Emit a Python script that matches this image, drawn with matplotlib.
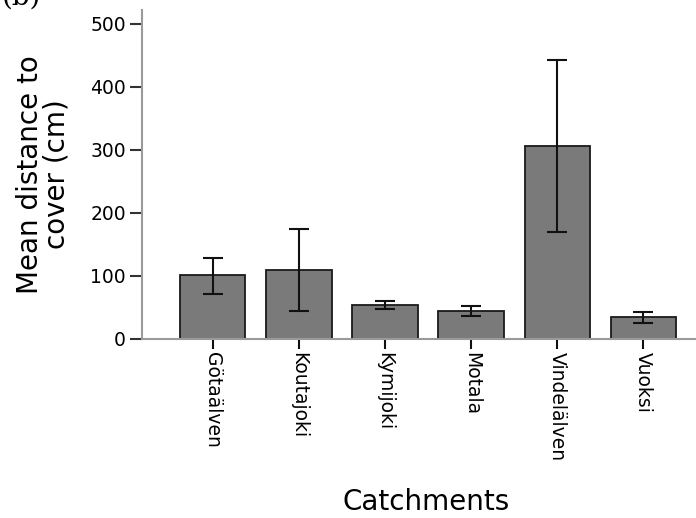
import matplotlib
matplotlib.use("Agg")
import matplotlib.pyplot as plt
import numpy as np

categories = ["Götaälven", "Koutajoki", "Kymijoki", "Motala", "Vindelälven", "Vuoksi"]
means = [101, 110, 54, 45, 306, 35]
err_upper = [129, 174, 60, 53, 442, 43]
err_lower = [72, 44, 48, 37, 170, 26]
yticks = [0, 100, 200, 300, 400, 500]

plt.rcParams['font.family'] = ['DejaVu Sans']

fig = plt.figure(figsize=(6.96, 5.18), dpi=100)
ax = fig.add_axes([142/696, 179/518, 554/696, 329/518])

x = np.arange(len(categories))
means_a = np.array(means)
yerr = np.vstack([means_a - np.array(err_lower), np.array(err_upper) - means_a])

ax.bar(x, means, width=0.76, color="#7a7a7a", edgecolor="#1a1a1a", linewidth=1.3, zorder=2)
ax.errorbar(x, means, yerr=yerr, fmt="none", ecolor="#111111", elinewidth=1.5,
            capsize=7.5, capthick=1.5, zorder=3)

ax.set_xlim(-0.82, 5.61)
ax.set_ylim(0, 522)
ax.set_yticks(yticks)
ax.set_xticks(x)
ax.set_xticklabels(categories, rotation=-90, fontsize=13.5)
ax.tick_params(axis='y', labelsize=13.5, length=8.5, width=1.5, color="#333333", pad=3)
ax.tick_params(axis='x', length=7, width=1.5, color="#111111", pad=2)

for s in ["top", "right"]:
    ax.spines[s].set_visible(False)
ax.spines["left"].set_color("#9a9a9a")
ax.spines["left"].set_linewidth(1.5)
ax.spines["bottom"].set_color("#9a9a9a")
ax.spines["bottom"].set_linewidth(1.5)

ax.set_ylabel("Mean distance to\ncover (cm)", fontsize=20, labelpad=14, linespacing=0.95)
ax.set_xlabel("Catchments", fontsize=20, labelpad=20)
ax.xaxis.label.set_x(0.512)

fig.text(0.003, 1.005, "(b)", fontsize=20, family="DejaVu Serif", ha="left", va="center")

fig.savefig("out.png", dpi=100)
